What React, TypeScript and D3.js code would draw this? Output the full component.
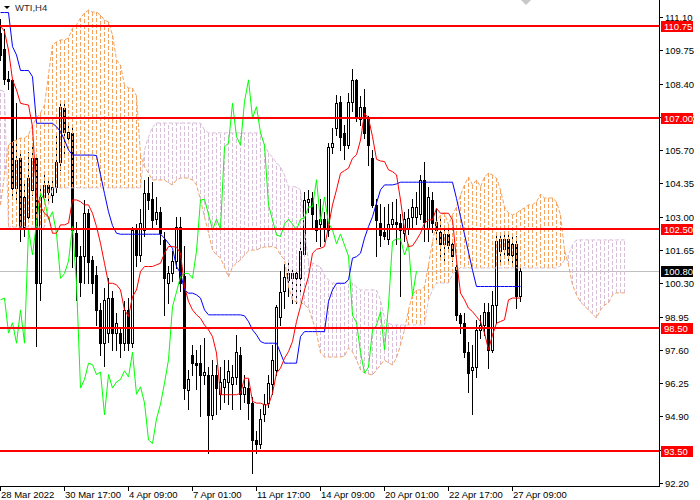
import React from "react";
import * as d3 from "d3";

// H4 bars, index 0 = 28 Mar 2022 01:00
const opens = [
  110.44, 109.8, 108.6, 108.55, 104.15, 105.37, 102.6, 103.0, 104.1, 105.37,
  100.3, 103.8, 104.3, 103.9, 104.2, 105.2, 107.4, 106.2, 106.38, 102.33,
  101.39, 101.39, 103.14, 101.25, 100.64, 99.22, 97.87, 98.3, 99.7, 98.3,
  98.3, 97.87, 99.22, 97.87, 102.47, 101.45, 102.47, 103.95, 103.7, 102.9,
  103.2, 102.06, 100.3, 100.7, 101.2, 102.6, 100.6, 95.98, 97.4, 97.05,
  97.06, 96.6, 96.6, 94.96, 96.6, 95.8, 96.1, 96.3, 96.2, 96.5,
  97.4, 95.8, 96.05, 95.45, 93.95, 93.8, 95.0, 95.45, 96.2, 96.8,
  98.95, 100.0, 100.45, 100.5, 100.7, 100.5, 101.5, 103.6, 103.75, 102.87,
  102.7, 102.9, 102.47, 105.84, 106.6, 107.67, 106.38, 105.9, 107.67, 108.55,
  106.95, 107.46, 107.06, 105.37, 103.48, 102.73, 102.4, 102.1, 102.7, 102.8,
  102.73, 102.33, 102.5, 103.0, 103.0, 103.1, 104.5, 102.5, 103.68, 102.8,
  102.4, 101.9, 102.3, 101.9, 100.98, 99.0, 98.7, 97.5, 96.8, 96.9,
  98.4, 98.6, 99.15, 97.6, 99.4, 101.6, 101.7, 102.1, 101.45, 101.9,
  99.8,
];
const highs = [
  111.0, 110.6, 108.9, 108.6, 107.6, 105.64, 104.5, 105.64, 105.9, 105.5,
  104.3, 104.8, 104.5, 104.6, 106.4, 107.67, 107.7, 106.7, 106.65, 102.8,
  101.8, 103.68, 103.3, 101.4, 101.0, 99.5, 100.1, 100.5, 100.0, 99.1,
  98.5, 99.6, 99.7, 102.6, 102.7, 103.3, 104.5, 104.6, 104.4, 103.8,
  103.4, 102.4, 101.0, 101.6, 103.0, 103.0, 101.8, 96.8, 97.8, 97.6,
  97.8, 98.1, 96.9, 97.2, 97.0, 96.9, 97.2, 97.2, 97.0, 98.2,
  97.7, 96.6, 96.4, 95.7, 94.3, 95.2, 95.8, 96.6, 97.8, 99.4,
  100.8, 101.1, 101.3, 101.0, 100.8, 102.0, 104.0, 104.1, 104.0, 103.5,
  103.7, 103.2, 106.0, 106.6, 107.95, 107.9, 106.7, 108.0, 109.0, 108.6,
  107.9, 108.2, 107.1, 105.7, 103.7, 103.5, 103.4, 103.5, 103.6, 103.7,
  103.1, 103.2, 103.3, 103.7, 104.0, 104.7, 105.2, 104.2, 104.0, 103.3,
  102.9, 102.6, 102.7, 102.0, 101.2, 99.1, 99.1, 97.9, 97.8, 98.8,
  99.0, 99.5, 99.5, 100.0, 102.3, 102.4, 102.4, 102.3, 102.2, 102.2,
  100.9,
];
const lows = [
  109.36, 108.4, 108.2, 103.88, 103.6, 102.0, 102.2, 102.8, 103.9, 97.74,
  99.63, 103.5, 103.6, 103.6, 104.0, 104.9, 105.5, 106.0, 100.98, 99.63,
  99.8, 100.3, 100.3, 99.9, 98.6, 97.4, 96.93, 97.9, 97.6, 97.6,
  97.3, 97.6, 97.6, 97.7, 101.0, 101.2, 102.2, 103.3, 102.6, 102.7,
  101.9, 99.0, 99.5, 100.4, 100.9, 100.0, 95.6, 95.2, 96.6, 96.0,
  94.9, 96.2, 93.4, 94.8, 95.0, 95.2, 95.5, 95.4, 95.2, 96.2,
  95.2, 95.5, 94.8, 92.6, 93.4, 93.6, 94.7, 95.3, 95.8, 96.6,
  98.6, 99.3, 99.8, 99.5, 99.5, 100.0, 101.4, 103.2, 102.6, 102.0,
  101.8, 102.0, 102.2, 105.6, 106.3, 105.7, 105.35, 105.8, 107.3, 106.9,
  106.7, 106.2, 105.1, 103.4, 101.4, 101.8, 102.1, 101.9, 102.6, 101.9,
  99.8, 102.0, 102.3, 102.6, 102.7, 102.9, 102.0, 102.0, 102.4, 102.0,
  101.3, 101.2, 101.6, 101.2, 98.8, 98.3, 97.3, 95.9, 95.0, 96.5,
  98.1, 98.2, 96.85, 97.5, 98.7, 101.1, 101.5, 101.2, 101.1, 99.3,
  99.6,
];
const closes = [
  109.56, 108.6, 108.5, 104.15, 105.3, 102.6, 103.8, 104.56, 105.37, 100.3,
  103.8, 104.3, 104.0, 104.2, 105.2, 107.47, 106.45, 106.45, 102.47, 101.39,
  100.37, 103.14, 101.18, 100.3, 99.22, 97.87, 99.63, 99.7, 98.28, 98.7,
  97.87, 99.22, 97.87, 102.47, 101.45, 102.74, 103.95, 103.68, 102.87, 103.2,
  102.33, 100.5, 100.7, 101.2, 102.6, 100.3, 96.05, 96.4, 97.06, 97.0,
  96.6, 96.7, 94.96, 96.6, 96.05, 96.3, 96.4, 96.75, 96.5, 97.5,
  95.8, 96.1, 95.45, 93.95, 93.8, 94.8, 95.4, 96.25, 97.2, 99.35,
  99.95, 100.57, 100.7, 100.7, 100.5, 101.6, 103.68, 103.7, 103.1, 102.47,
  102.9, 102.5, 105.84, 105.98, 107.6, 106.25, 105.9, 107.67, 108.55, 107.0,
  107.46, 106.4, 105.9, 103.48, 102.87, 102.26, 102.2, 102.7, 102.9, 102.7,
  102.47, 102.9, 102.95, 103.4, 103.4, 104.5, 102.8, 103.8, 102.74, 102.47,
  101.9, 102.3, 101.85, 101.4, 99.0, 98.7, 97.5, 96.66, 96.9, 98.4,
  98.6, 99.15, 97.6, 99.4, 102.0, 102.1, 102.1, 101.45, 101.9, 99.8,
  100.8,
];

// Ichimoku lines
const tenkan = [
  110.74, 110.51, 109.76, 108.55, 108.14, 107.6, 107.56, 107.53, 106.65, 103.82,
  103.41, 103.14, 103.0, 102.33, 102.33, 102.67, 102.67, 102.74, 103.68, 103.68,
  103.61, 103.48, 103.48, 103.14, 102.6, 101.92, 101.11, 100.3, 100.3, 100.24,
  100.03, 99.22, 98.95, 99.76, 100.03, 100.78, 100.98, 100.98, 100.98, 101.05,
  101.11, 101.52, 101.79, 101.79, 101.76, 101.52, 100.17, 99.56, 99.22, 99.02,
  98.88, 98.61, 98.41, 98.14, 97.47, 95.78, 95.78, 95.78, 95.78, 95.78,
  95.84, 96.45, 96.45, 95.51, 95.44, 95.44, 95.37, 95.37, 95.84, 96.66,
  96.86, 97.26, 97.53, 97.94, 98.75, 99.36, 100.03, 100.57, 101.52, 101.68,
  101.72, 101.79, 102.6, 103.48, 104.09, 104.76, 104.87, 104.97, 105.37, 105.51,
  106.11, 107.2, 106.99, 106.25, 105.33, 105.26, 105.24, 104.9, 104.83, 104.7,
  103.68, 102.47, 101.79, 101.82, 102.06, 102.33, 102.74, 102.87, 102.87, 103.34,
  103.14, 103.14, 103.14, 102.87, 101.25, 99.9, 99.63, 99.29, 99.15, 98.95,
  98.75, 98.28, 97.6, 98.21, 98.68, 98.75, 98.82, 99.63, 99.7, 99.7,
  99.7,
];
const kijun = [
  111.28, 111.28, 111.28, 109.9, 109.56, 108.93, 108.93, 108.93, 108.68, 106.79,
  106.79, 106.79, 106.79, 106.79, 106.65, 106.45, 106.11, 105.71, 105.5, 105.5,
  105.5, 105.5, 105.5, 105.5, 105.48, 104.7, 103.94, 103.2, 102.64, 102.33,
  102.29, 102.29, 102.29, 102.29, 102.29, 102.29, 102.29, 102.29, 102.29, 102.29,
  102.29, 102.13, 101.92, 101.72, 100.98, 100.71, 100.03, 99.9, 99.9, 99.83,
  99.7, 99.22, 99.02, 99.02, 99.02, 99.02, 99.02, 99.02, 99.02, 99.02,
  99.02, 98.98, 98.75, 98.41, 98.21, 97.94, 97.87, 97.87, 97.87, 97.87,
  97.47, 97.06, 97.06, 97.06, 97.06, 98.14, 98.34, 98.34, 98.34, 98.34,
  98.34, 98.34, 99.56, 100.03, 100.3, 100.3, 100.3, 100.44, 101.32, 101.38,
  101.52, 102.13, 102.6, 103.0, 103.55, 104.09, 104.29, 104.29, 104.29, 104.33,
  104.4, 104.4, 104.4, 104.4, 104.4, 104.4, 104.4, 104.4, 104.4, 104.4,
  104.4, 104.4, 104.4, 104.4, 103.74, 103.01, 102.29, 101.56, 100.83, 100.17,
  100.17, 100.17, 100.17, 100.17, 100.17, 100.17, 100.17, 100.17, 100.17, 100.17,
  100.17,
];
// senkou spans, already shifted 26 bars forward (157 values)
const spanA = [
  103.48, 104.69, 105.91, 106.03, 106.11, 106.19, 106.19, 106.32, 106.72, 107.0,
  107.21, 107.53, 108.75, 109.97, 110.09, 110.17, 110.17, 110.25, 110.65, 110.78,
  111.06, 111.26, 111.38, 111.3, 111.3, 111.18, 110.98, 110.9, 110.37, 109.36,
  109.15, 108.34, 108.22, 108.22, 107.9, 105.5, 105.02, 104.77, 104.49, 104.49,
  104.49, 104.49, 104.37, 104.29, 104.49, 104.57, 104.57, 104.57, 104.49, 104.29,
  103.68, 102.99, 102.34, 101.65, 101.45, 101.33, 100.96, 100.56, 100.96, 101.12,
  101.25, 101.45, 101.61, 101.65, 101.65, 101.73, 101.77, 101.77, 101.8, 101.73,
  101.45, 101.25, 100.15, 99.62, 99.54, 99.54, 99.42, 99.3, 98.81, 98.29,
  97.47, 97.31, 97.31, 97.31, 97.31, 97.31, 97.35, 97.68, 97.52, 97.19,
  96.79, 96.66, 96.62, 96.58, 96.79, 96.99, 97.19, 97.07, 96.99, 97.27,
  97.8, 98.41, 99.22, 99.83, 100.03, 100.03, 100.15, 101.04, 101.98, 102.79,
  103.07, 103.15, 102.67, 103.07, 103.4, 103.88, 104.29, 104.61, 104.29, 104.49,
  104.21, 104.61, 104.77, 104.69, 104.57, 104.09, 103.4, 103.15, 103.07, 103.15,
  103.27, 103.36, 103.48, 103.48, 103.6, 103.92, 103.76, 103.76, 103.76, 103.6,
  103.07, 101.65, 101.04, 100.23, 99.83, 99.54, 99.38, 99.22, 99.06, 98.89,
  99.22, 99.42, 99.5, 99.83, 99.91, 99.91, 99.91,
];
const spanB = [
  108.14, 108.06, 102.58, 102.58, 102.58, 102.58, 102.58, 102.58, 102.58, 102.58,
  102.58, 102.58, 103.5, 104.17, 104.17, 104.17, 104.17, 104.17, 104.17, 104.17,
  104.17, 104.17, 104.17, 104.17, 104.17, 104.17, 104.17, 104.17, 104.17, 104.17,
  104.17, 104.17, 104.17, 104.17, 104.17, 104.17, 105.71, 106.24, 106.64, 106.8,
  106.8, 106.8, 106.8, 106.8, 106.8, 106.8, 106.8, 106.8, 106.8, 106.8,
  106.8, 106.52, 106.4, 106.4, 106.4, 106.4, 106.4, 106.4, 106.4, 106.4,
  106.4, 106.4, 106.4, 106.4, 106.4, 106.4, 105.91, 105.59, 105.42, 105.18,
  105.02, 104.69, 104.21, 104.21, 104.21, 104.09, 102.46, 101.17, 101.12, 101.04,
  100.96, 100.64, 100.43, 100.31, 100.31, 100.31, 100.31, 100.31, 100.31, 100.15,
  100.03, 100.03, 100.03, 100.03, 100.03, 99.62, 98.89, 98.69, 98.61, 98.61,
  98.61, 98.61, 98.61, 98.61, 98.61, 98.61, 98.61, 99.62, 100.03, 100.31,
  100.31, 100.31, 100.31, 100.64, 100.84, 100.92, 100.92, 100.92, 100.92, 100.92,
  100.92, 100.92, 100.92, 100.92, 100.92, 100.92, 100.92, 100.92, 100.92, 100.92,
  100.92, 100.92, 100.92, 100.92, 100.92, 100.92, 100.92, 100.92, 100.92, 100.92,
  101.0, 101.25, 101.45, 101.86, 102.06, 102.06, 102.06, 102.06, 102.06, 102.06,
  102.06, 102.06, 102.06, 102.06, 102.06, 102.06, 102.06,
];
const CHIKOU_SHIFT = 26;

const levels = [110.75, 107.0, 102.5, 98.5, 93.5];
const lastPrice = 100.8;
const priceTicks = [111.1, 109.75, 108.4, 107.05, 105.7, 104.35, 103.0, 101.65, 100.3, 98.95, 97.6, 96.25, 94.9, 93.55, 92.2];
const timeTickBars = [0, 16, 32, 48, 64, 80, 96, 112, 128];
const timeTickLabels = [
  "28 Mar 2022", "30 Mar 17:00", "4 Apr 09:00", "7 Apr 01:00", "11 Apr 17:00",
  "14 Apr 09:00", "20 Apr 01:00", "22 Apr 17:00", "27 Apr 09:00",
];
const symbolLabel = "WTI,H4";

const AXIS_X = 660;
const AXIS_Y = 486;
const SANDY = "#F4A460";
const THISTLE = "#D8BFD8";
const DASH = "4 2";
const FONT = "'Liberation Sans', Arial, sans-serif";

export default function App() {
  const x = d3.scaleLinear().domain([0, 1]).range([0.5, 4.5]);
  const y = d3.scaleLinear().domain([92.2, 111.1]).range([483, 17]);
  const col = (i: number) => Math.floor(x(i));
  const row = (p: number) => Math.round(y(p));

  const line = d3.line<number>().x((_, i) => x(i)).y(d => y(d));
  const chikou = closes.slice(CHIKOU_SHIFT);

  return (
    <svg width={700} height={500} style={{ position: "absolute", left: 0, top: 0, background: "#fff" }}
      fontFamily={FONT}>
      <defs>
        <clipPath id="plot"><rect x={0} y={0} width={AXIS_X - 1} height={AXIS_Y} /></clipPath>
      </defs>
      <rect x={0} y={0} width={700} height={500} fill="#fff" />

      <g clipPath="url(#plot)">
        {/* last price line */}
        <line x1={0} x2={AXIS_X} y1={row(lastPrice) + 0.5} y2={row(lastPrice) + 0.5} stroke="#C0C0C0" />

        {/* candles */}
        <g shapeRendering="crispEdges">
          {closes.map((c, i) => {
            const o = opens[i];
            const cx = col(i);
            const top = row(Math.max(o, c));
            const bot = row(Math.min(o, c));
            const bull = c >= o;
            return (
              <g key={i}>
                <line x1={cx + 0.5} x2={cx + 0.5} y1={row(highs[i])} y2={row(lows[i]) + 1} stroke="#000" />
                {bull
                  ? <rect x={cx - 0.5} y={top + 0.5} width={2} height={Math.max(bot - top, 0)} fill="#fff" stroke="#000" />
                  : <rect x={cx - 1} y={top} width={3} height={Math.max(bot - top, 1) + 1} fill="#000" />}
              </g>
            );
          })}
        </g>

        {/* kumo */}
        <g shapeRendering="crispEdges">
          {spanA.map((a, i) => (
            <line key={i} x1={col(i) + 0.5} x2={col(i) + 0.5} y1={row(a)} y2={row(spanB[i])}
              stroke={a >= spanB[i] ? SANDY : THISTLE} strokeDasharray={DASH} />
          ))}
        </g>
        <path d={line(spanB) ?? ""} fill="none" stroke={THISTLE} strokeDasharray={DASH} />
        <path d={line(spanA) ?? ""} fill="none" stroke={SANDY} strokeDasharray={DASH} />

        {/* lines */}
        <path d={line(chikou) ?? ""} fill="none" stroke="#00FF00" strokeWidth={1} />
        <path d={line(kijun) ?? ""} fill="none" stroke="#0000FF" strokeWidth={1} />
        <path d={line(tenkan) ?? ""} fill="none" stroke="#FF0000" strokeWidth={1} />

        {/* horizontal levels */}
        {levels.map(l => (
          <line key={l} x1={0} x2={AXIS_X} y1={row(l)} y2={row(l)} stroke="#FF0000" strokeWidth={2} shapeRendering="crispEdges" />
        ))}

        {/* shift marker */}
        <path d={`M${col(130) + 1},0 L${col(130) + 11},0 L${col(130) + 6},5 Z`} fill="#C8C8C8" />
      </g>

      {/* axes */}
      <g shapeRendering="crispEdges">
        <line x1={AXIS_X - 0.5} x2={AXIS_X - 0.5} y1={0} y2={AXIS_Y + 1} stroke="#000" />
        <line x1={0} x2={AXIS_X} y1={AXIS_Y + 0.5} y2={AXIS_Y + 0.5} stroke="#000" />
        {priceTicks.map(p => (
          <line key={p} x1={AXIS_X} x2={AXIS_X + 3} y1={row(p) + 0.5} y2={row(p) + 0.5} stroke="#000" />
        ))}
        {timeTickBars.map(b => (
          <line key={b} x1={col(b) + 0.5} x2={col(b) + 0.5} y1={AXIS_Y} y2={AXIS_Y + 5} stroke="#000" />
        ))}
      </g>
      {priceTicks.map(p => (
        <text key={p} x={AXIS_X + 5} y={row(p) + 4} fontSize={9.5} fill="#000">{p.toFixed(2)}</text>
      ))}
      {timeTickBars.map((b, k) => (
        <text key={b} x={col(b) + 1} y={498} fontSize={9.5} fill="#000">{timeTickLabels[k]}</text>
      ))}

      {/* level labels */}
      {levels.map(l => (
        <g key={l}>
          <rect x={AXIS_X + 1} y={row(l) - 5} width={32} height={11} fill="#FF0000" />
          <text x={AXIS_X + 4} y={row(l) + 4} fontSize={9.5} fill="#fff">{l.toFixed(2)}</text>
        </g>
      ))}
      <rect x={AXIS_X + 1} y={row(lastPrice) - 5} width={32} height={11} fill="#000" />
      <text x={AXIS_X + 4} y={row(lastPrice) + 4} fontSize={9.5} fill="#fff">{lastPrice.toFixed(2)}</text>

      {/* symbol label */}
      <path d="M4,6 L10,6 L7,9 Z" fill="#000" />
      <text x={15} y={11} fontSize={9.5} fill="#2a2a2a">{symbolLabel}</text>
    </svg>
  );
}
